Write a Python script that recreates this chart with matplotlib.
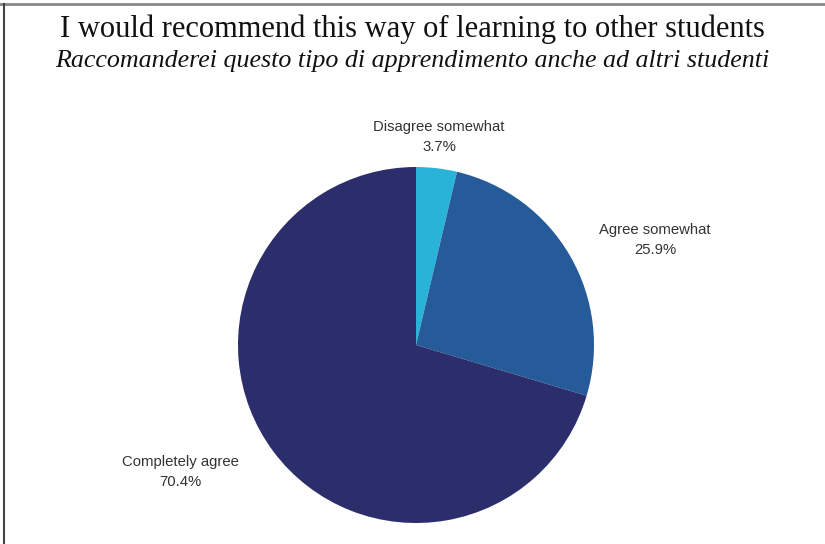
import matplotlib
matplotlib.use("Agg")
import matplotlib.pyplot as plt
from matplotlib.lines import Line2D

categories = ["Disagree somewhat", "Agree somewhat", "Completely agree"]
values = [3.7, 25.9, 70.4]
colors = ["#2ab3d8", "#265b99", "#2c2d6b"]
title_en = "I would recommend this way of learning to other students"
title_it = "Raccomanderei questo tipo di apprendimento anche ad altri studenti"

W, H = 825, 544
fig = plt.figure(figsize=(W / 100, H / 100), dpi=100)
fig.patch.set_facecolor("white")
ax = fig.add_axes([0, 0, 1, 1])

cx, cy, r = 416, H - 345, 178
wedges, _ = ax.pie(values, colors=colors, startangle=90, counterclock=False,
                   center=(cx, cy), radius=r, frame=True,
                   wedgeprops=dict(linewidth=0))
ax.set_xlim(0, W)
ax.set_ylim(0, H)
ax.axis("off")

label_pos = [(439, H - 137), (655, H - 240), (180, H - 472)]
for (x, y), name, v in zip(label_pos, categories, values):
    ax.text(x, y, f"{name}\n{v:.1f}%", ha="center", va="center",
            fontsize=10.7, color="#333333", family="Liberation Sans",
            linespacing=1.5)

fig.text(0.5, 1 - 29 / H, title_en, ha="center", va="center",
         fontsize=22, family="Liberation Serif", color="#111111")
fig.text(0.5, 1 - 61 / H, title_it, ha="center", va="center",
         fontsize=18.7, family="Liberation Serif", style="italic", color="#111111")

fig.add_artist(Line2D([0, 1], [1 - 4 / H, 1 - 4 / H], transform=fig.transFigure,
                      color="#888888", linewidth=2))
fig.add_artist(Line2D([3.5 / W, 3.5 / W], [0, 1 - 4 / H], transform=fig.transFigure,
                      color="#444444", linewidth=1.5))

fig.savefig("out.png", dpi=100, facecolor="white")
